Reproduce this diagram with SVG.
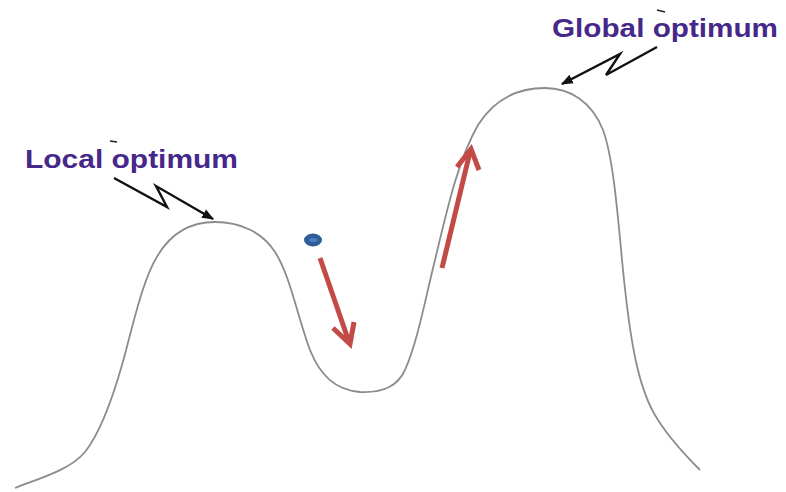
<svg xmlns="http://www.w3.org/2000/svg" width="786" height="492" viewBox="0 0 786 492">
<style>
.lbl{font-family:"Liberation Sans",Arial,sans-serif;font-weight:bold;font-size:25px;fill:#46288a}
.curve{fill:none;stroke:#8c8c8c;stroke-width:1.8}
.bolt{fill:none;stroke:#111;stroke-width:2.4;stroke-linejoin:miter}
.red{fill:none;stroke:#c24a47;stroke-width:5;stroke-linecap:butt;stroke-linejoin:miter}
</style>
<defs>
<marker id="bh" viewBox="0 0 10 10" refX="9" refY="5" markerWidth="5" markerHeight="5" orient="auto" markerUnits="strokeWidth">
<path d="M0,1 L10,5 L0,9 Z" fill="#111"/>
</marker>
</defs>
<rect width="786" height="492" fill="#fff"/>
<g id="landscape">
<path class="curve" d="M15,488 C40,478 70,470 85,452 C100,433 112,400 122,365 C132,330 142,280 158,255 C172,232 192,222 215,222 C240,222 262,232 275,252 C290,275 298,318 310,350 C320,375 335,390 360,392 C385,393 398,385 405,370 C418,340 425,300 435,260 C447,210 458,160 478,125 C495,98 520,88 545,88 C570,88 592,102 603,130 C614,160 618,220 623,270 C630,340 638,390 658,420 C672,442 688,458 700,470"/>
</g>
<g id="local-label">
<text class="lbl" x="25" y="168" textLength="213" lengthAdjust="spacingAndGlyphs">Local optimum</text>
<path d="M110,141 L117,142" stroke="#222" stroke-width="1.5"/>
</g>
<g id="global-label">
<text class="lbl" x="552" y="37" textLength="226" lengthAdjust="spacingAndGlyphs">Global optimum</text>
<path d="M657,10 L665,12" stroke="#222" stroke-width="1.5"/>
</g>
<g id="ball">
<ellipse cx="313" cy="240" rx="9" ry="6.5" fill="#2d5e98"/>
<ellipse cx="313" cy="240" rx="4" ry="2" fill="#4a7fc0"/>
</g>
<g id="connectors">
<path class="bolt" d="M114,178 L167,207 L156,186 L213,219" marker-end="url(#bh)"/>
<path class="bolt" d="M657,47 L606,75 L620,54 L562,84" marker-end="url(#bh)"/>
<path class="red" d="M320,258 L349,342"/>
<path class="red" d="M333,328 L350,344 L354,322"/>
<path class="red" d="M442,268 L470,152"/>
<path class="red" d="M457,167 L471,149 L479,170"/>
</g>
</svg>
